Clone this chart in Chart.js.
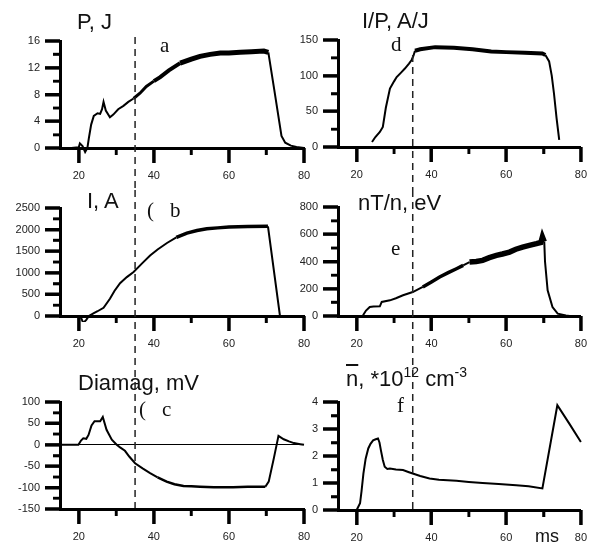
<!DOCTYPE html>
<html lang="en">
<head>
<meta charset="UTF-8">
<title>Discharge traces</title>
<script src="https://cdn.jsdelivr.net/npm/chart.js"></script>
<style>
  body { margin: 0; background: #fff; }
  #page { position: relative; width: 593px; height: 554px; overflow: hidden; }
  .panel, .overlay { position: absolute; }
  .overlay { pointer-events: none; }
  .lbl { position: absolute; font-family: "Liberation Sans", Arial, sans-serif; font-size: 22px; line-height: 1; white-space: nowrap; color: #111; }
  .let { position: absolute; font-family: "Liberation Serif", "Times New Roman", serif; font-size: 21px; line-height: 1; color: #111; }
  .lbl sup { font-size: 14px; line-height: 0; vertical-align: 9px; }
</style>
</head>
<body>
<div id="page">
  <div class="lbl" style="left:77px; top:11px;">P, J</div>
  <div class="lbl" style="left:362px; top:10px;">I/P, A/J</div>
  <div class="lbl" style="left:87px; top:190px;">I, A</div>
  <div class="lbl" style="left:358px; top:192px;">nT/n, eV</div>
  <div class="lbl" style="left:78px; top:372px;">Diamag, mV</div>
  <div class="lbl" style="left:346px; top:368px;"><span style="text-decoration:overline">n</span>, *10<sup>12</sup> cm<sup>-3</sup></div>
  <div class="lbl" style="left:535px; top:527px; font-size:18px;">ms</div>

  <div class="let" style="left:160px; top:35px;">a</div>
  <div class="let" style="left:147px; top:200px;">(</div>
  <div class="let" style="left:170px; top:200px;">b</div>
  <div class="let" style="left:139px; top:399px;">(</div>
  <div class="let" style="left:162px; top:399px;">c</div>
  <div class="let" style="left:391px; top:34px;">d</div>
  <div class="let" style="left:391px; top:238px;">e</div>
  <div class="let" style="left:397px; top:395px;">f</div>
</div>

<script>
  // time axis, ms
  const xMajor = [20, 40, 60, 80];
  const xMinor = [30, 50, 70];
  const markTime = 35;

  // a) P, J
  const tP = [15, 18, 20, 20.3, 21, 21.7, 22.3, 22.7, 23.3, 24, 25, 25.7, 26.2, 26.6, 27.2, 28.3, 29.2, 30.5, 31.9, 33.2, 34.6, 36.3, 38, 40, 41.7, 44, 47, 50, 52.3, 55, 57.7, 60, 63, 66, 69.3, 70.5, 72, 74, 75, 76.5, 78, 80];
  const valP = [0, 0, 0.1, 0.7, 0.3, -0.6, 0, 1.5, 3.5, 4.8, 5.2, 5.1, 5.8, 6.9, 5.6, 4.6, 5.0, 5.8, 6.3, 6.9, 7.4, 8.2, 9.2, 10.0, 10.6, 11.6, 12.7, 13.3, 13.7, 14.0, 14.2, 14.2, 14.3, 14.4, 14.5, 14.3, 9.0, 1.8, 0.8, 0.35, 0.15, 0];

  // d) I/P, A/J
  const tIP = [24.1, 25, 26.2, 27, 27.8, 28.9, 30, 30.7, 32, 32.9, 34, 34.7, 35.2, 35.6, 37, 41, 46, 51, 56, 60, 65, 69.7, 70.5, 71.5, 72.2, 72.8, 73.5, 74.2];
  const valIP = [7, 14, 21, 28, 55, 82, 92, 98, 105, 110, 117, 122, 128, 135, 137, 140, 139, 137, 134, 133, 132, 131, 129, 120, 100, 75, 40, 10];

  // b) I, A
  const tI = [15, 19.5, 20.5, 21.2, 22, 22.7, 23.9, 25, 26.6, 28.3, 29.5, 31, 32.8, 34.6, 37, 39, 41, 43.5, 46, 48.8, 51.5, 54.1, 57, 60, 65, 70.4, 73.6, 76, 80];
  const valI = [0, 0, -20, -160, -90, 0, 60, 110, 190, 400, 580, 760, 900, 1020, 1230, 1400, 1540, 1690, 1820, 1920, 1980, 2020, 2040, 2060, 2070, 2075, 0, 0, 0];

  // e) nT/n, eV
  const tT = [21.7, 22.5, 23.5, 24.5, 26.2, 26.7, 28.9, 30.5, 32.4, 35, 37.7, 40, 42.2, 44.5, 46.7, 48.5, 50.2, 52, 53.7, 55.5, 57.4, 59, 60.9, 62.6, 64.4, 66.2, 68.1, 69.3, 69.7, 70.2, 70.4, 71.1, 72.4, 73.8, 76, 77];
  const valT = [5, 40, 66, 70, 71, 103, 115, 130, 152, 176, 213, 250, 286, 318, 347, 372, 396, 400, 408, 428, 445, 455, 469, 490, 506, 518, 531, 540, 580, 545, 400, 188, 66, 17, 4, 0];

  // c) Diamag, mV
  const tD = [15, 19.9, 20.6, 21.2, 22, 22.6, 23.4, 24.2, 25.7, 26.4, 27.4, 28.8, 30.1, 31, 32.3, 33.5, 35, 37, 39, 41, 43.4, 45.5, 47.9, 50, 52.3, 56, 61.1, 65, 69.7, 70.6, 72, 73.2, 74.6, 76, 77.3, 79, 80];
  const valD = [0, 0, 10, 15, 14, 23, 45, 55, 55, 65, 35, 12, 0, -6, -14, -28, -43, -55, -66, -76, -86, -92, -96, -97, -98, -99, -99, -98, -98, -86, -30, 21, 13, 8, 4, 1.5, 0];

  // f) n, 10^12 cm^-3
  const tN = [20, 20.9, 21.3, 21.8, 22.4, 23.1, 23.7, 24.4, 25.1, 25.7, 26.1, 26.5, 27, 27.5, 28.2, 28.9, 30.5, 32.4, 34, 35, 37, 39.5, 42, 46.7, 50, 53.7, 58, 62.7, 66, 69.7, 73.7, 76.9, 80];
  const valN = [0, 0.25, 0.7, 1.35, 1.9, 2.28, 2.45, 2.58, 2.62, 2.65, 2.5, 2.2, 1.85, 1.6, 1.52, 1.54, 1.5, 1.48, 1.4, 1.35, 1.26, 1.17, 1.12, 1.08, 1.04, 1.0, 0.96, 0.92, 0.88, 0.8, 3.88, 3.2, 2.52];

  const tickFont = { family: '"Liberation Sans", Arial, sans-serif', size: 11 };

  // dashed marker (and a second pass of the tick marks) on a transparent layer above each chart
  const overlayDraw = {
    id: 'overlayDraw',
    afterRender(chart) {
      const spec = chart.$spec;
      const ctx = spec.overlay.getContext('2d');
      const x = chart.scales.x, y = chart.scales.y;
      const left = Math.round(x.getPixelForValue(x.min));
      const bottom = Math.round(y.getPixelForValue(y.min));
      ctx.clearRect(0, 0, spec.overlay.width, spec.overlay.height);
      ctx.fillStyle = '#000';
      spec.yMajor.forEach(v => ctx.fillRect(left - 15, Math.round(y.getPixelForValue(v)) - 1.5, 15, 3));
      spec.yMinor.forEach(v => ctx.fillRect(left - 7, Math.round(y.getPixelForValue(v)) - 1.2, 7, 2.5));
      xMajor.forEach(v => ctx.fillRect(Math.round(x.getPixelForValue(v)) - 1.5, bottom, 3, 15));
      xMinor.forEach(v => ctx.fillRect(Math.round(x.getPixelForValue(v)) - 1.2, bottom, 2.5, 7));
      const mx = x.getPixelForValue(markTime);
      ctx.save();
      ctx.strokeStyle = '#222';
      ctx.lineWidth = 1.5;
      ctx.setLineDash([7, 5]);
      ctx.beginPath();
      ctx.moveTo(mx, spec.dash[0]);
      ctx.lineTo(mx, spec.dash[1]);
      ctx.stroke();
      ctx.restore();
    }
  };

  // box = chart area on the page [left, top, right, bottom]; cv = canvas [left, top, width, height]
  const panels = [
    { t: tP, v: valP, yMin: 0, yMax: 16, yStep: 4, yMinorStep: 2, box: [60, 41, 304, 148], cv: [0, 0, 320, 190], dash: [37, 190], noisy: [[34, 40, 3], [40, 47, 4], [47, 70.5, 5]] },
    { t: tIP, v: valIP, yMin: 0, yMax: 150, yStep: 50, yMinorStep: 25, box: [338, 40, 582, 147], cv: [285, 0, 308, 190], dash: [55, 190], noisy: [[35.5, 70.5, 4]] },
    { t: tI, v: valI, yMin: 0, yMax: 2500, yStep: 500, yMinorStep: 250, box: [60, 208, 304, 316], cv: [0, 190, 320, 180], dash: [190, 370], noisy: [[44, 70.5, 3.5]] },
    { t: tT, v: valT, yMin: 0, yMax: 800, yStep: 200, yMinorStep: 100, box: [338, 207, 582, 316], cv: [285, 190, 308, 180], dash: [190, 370], noisy: [[37, 50, 3.5], [50, 70.2, 5.5]] },
    { t: tD, v: valD, yMin: -150, yMax: 100, yStep: 50, yMinorStep: 25, box: [60, 402, 304, 509], cv: [0, 370, 320, 184], dash: [370, 508], noisy: [[40, 70, 2.5]], zero: true },
    { t: tN, v: valN, yMin: 0, yMax: 4, yStep: 1, yMinorStep: 0.5, box: [338, 402, 582, 510], cv: [285, 370, 308, 184], dash: [370, 510], noisy: [] }
  ];

  const page = document.getElementById('page');

  panels.forEach(p => {
    const [cl, ct, cw, ch] = p.cv;
    const [l, top, r, b] = p.box;
    const canvas = document.createElement('canvas');
    canvas.className = 'panel';
    canvas.width = cw;
    canvas.height = ch;
    canvas.style.left = cl + 'px';
    canvas.style.top = ct + 'px';
    page.insertBefore(canvas, page.firstChild);

    const overlay = document.createElement('canvas');
    overlay.className = 'overlay';
    overlay.width = cw;
    overlay.height = ch;
    overlay.style.left = cl + 'px';
    overlay.style.top = ct + 'px';
    page.appendChild(overlay);

    const yMajor = [], yMinor = [];
    for (let v = p.yMin; v <= p.yMax + 1e-9; v += p.yMinorStep) {
      const onMajor = Math.abs(Math.round(v / p.yStep) * p.yStep - v) < 1e-9;
      (onMajor ? yMajor : yMinor).push(v);
    }
    const spec = { yMajor: yMajor, yMinor: yMinor, dash: [p.dash[0] - ct, p.dash[1] - ct], overlay: overlay };

    // tick marks as short line pieces outside the plot, placed through the scales
    const msPerPx = 65 / (r - l);
    const valPerPx = (p.yMax - p.yMin) / (b - top);
    const yTicks = (vals, len) => vals.flatMap(v => [{ x: 15 - len * msPerPx, y: v }, { x: 15, y: v }, { x: 15, y: null }]);
    const xTicks = (vals, len) => vals.flatMap(v => [{ x: v, y: p.yMin }, { x: v, y: p.yMin - len * valPerPx }, { x: v, y: null }]);
    const tickSet = (data, w) => ({ data: data, borderColor: '#000', borderWidth: w, pointRadius: 0, tension: 0, clip: false, spanGaps: false, borderCapStyle: 'butt' });

    new Chart(canvas, {
      type: 'line',
      data: {
        datasets: [
          {
            data: p.t.map((x, i) => ({ x: x, y: p.v[i] })),
            borderColor: '#000',
            borderWidth: 2,
            pointRadius: 0,
            tension: 0,
            clip: 6,
            segment: {
              borderWidth: ctx => {
                const x0 = ctx.p0.parsed.x, x1 = ctx.p1.parsed.x;
                const band = p.noisy.find(n => x0 >= n[0] && x1 <= n[1]);
                return band ? band[2] : 2;
              }
            }
          },
          tickSet(yTicks(yMajor, 15), 3),
          tickSet(yTicks(yMinor, 7), 2.5),
          tickSet(xTicks(xMajor, 15), 3),
          tickSet(xTicks(xMinor, 7), 2.5)
        ]
      },
      options: {
        responsive: false,
        animation: false,
        events: [],
        layout: { padding: { left: l - cl - 50, top: top - ct, right: cl + cw - r, bottom: ct + ch - b - 38 } },
        plugins: {
          legend: { display: false },
          tooltip: { enabled: false }
        },
        scales: {
          x: {
            type: 'linear',
            min: 15,
            max: 80,
            afterFit: s => { s.height = 38; },
            afterBuildTicks: s => { s.ticks = xMajor.map(v => ({ value: v })); },
            border: { color: '#000', width: 3 },
            grid: { drawOnChartArea: false, tickLength: 15, tickColor: 'rgba(0,0,0,0)' },
            ticks: { color: '#222', font: tickFont, padding: 6, maxRotation: 0, autoSkip: false }
          },
          y: {
            min: p.yMin,
            max: p.yMax,
            afterFit: s => { s.width = 50; },
            border: { color: '#000', width: 3 },
            grid: {
              drawOnChartArea: !!p.zero,
              color: ctx => (p.zero && ctx.tick && ctx.tick.value === 0) ? '#000' : 'rgba(0,0,0,0)',
              lineWidth: 1,
              tickLength: 15,
              tickColor: 'rgba(0,0,0,0)'
            },
            ticks: { stepSize: p.yStep, color: '#222', font: tickFont, padding: 5, callback: v => String(v) }
          }
        }
      },
      plugins: [
        { id: 'spec', beforeInit(c) { c.$spec = spec; } },
        overlayDraw
      ]
    });
  });
</script>
</body>
</html>
